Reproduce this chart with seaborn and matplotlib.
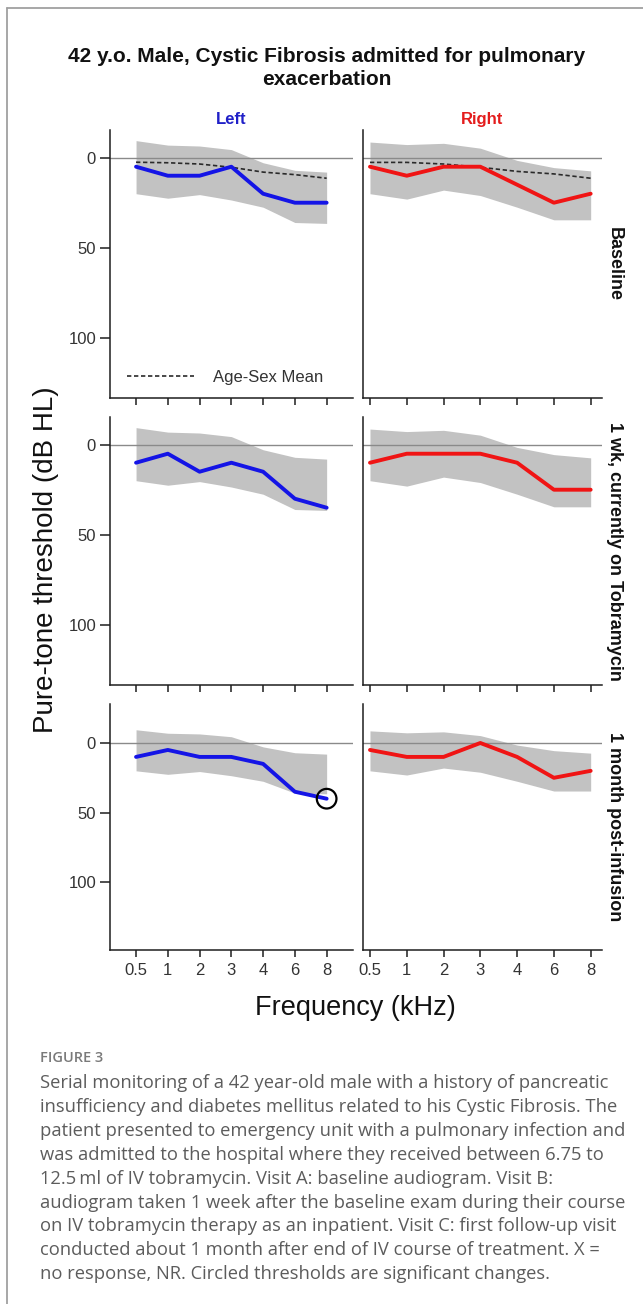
import numpy as np
import pandas as pd
import matplotlib
matplotlib.use("Agg")
import matplotlib.pyplot as plt
from matplotlib.lines import Line2D
import seaborn as sns

# ---------------- data ----------------
freqs = ["0.5", "1", "2", "3", "4", "6", "8"]
visits = ["Baseline", "1 wk, currently on Tobramycin", "1 month post-infusion"]
ears = ["Left", "Right"]

left_baseline = [5, 10, 10, 5, 20, 25, 25]
left_1wk = [10, 5, 15, 10, 15, 30, 35]
left_1mo = [10, 5, 10, 10, 15, 35, 40]
right_baseline = [5, 10, 5, 5, 15, 25, 20]
right_1wk = [10, 5, 5, 5, 10, 25, 25]
right_1mo = [5, 10, 10, 0, 10, 25, 20]

# age-sex norms (band limits and mean)
left_norm_upper = [-9.5, -7, -6.5, -4.5, 2.8, 7, 8]
left_norm_lower = [20, 22.5, 20.5, 23.5, 27.5, 36, 36.5]
right_norm_upper = [-8.7, -7.3, -8, -5.3, 1.5, 5.5, 7.3]
right_norm_lower = [20, 23, 18, 21, 27.5, 34.5, 34.5]
left_mean = [2.5, 2.8, 3.5, 5.3, 8, 9.4, 11.4]
right_mean = [2.6, 2.6, 3.5, 5.3, 7.6, 9, 11.4]

# significant change (circled)
sig_ear = ["Left"]
sig_visit = ["1 month post-infusion"]
sig_freq = ["8"]
sig_db = [40]

yticks = [0, 50, 100]

caption_head = "FIGURE 3"
caption_lines = [
    "Serial monitoring of a 42 year-old male with a history of pancreatic",
    "insufficiency and diabetes mellitus related to his Cystic Fibrosis. The",
    "patient presented to emergency unit with a pulmonary infection and",
    "was admitted to the hospital where they received between 6.75 to",
    "12.5\u2009ml of IV tobramycin. Visit A: baseline audiogram. Visit B:",
    "audiogram taken 1 week after the baseline exam during their course",
    "on IV tobramycin therapy as an inpatient. Visit C: first follow-up visit",
    "conducted about 1 month after end of IV course of treatment. X =",
    "no response, NR. Circled thresholds are significant changes.",
]

# ---------------- tables ----------------
thr = {("Left", visits[0]): left_baseline, ("Left", visits[1]): left_1wk,
       ("Left", visits[2]): left_1mo, ("Right", visits[0]): right_baseline,
       ("Right", visits[1]): right_1wk, ("Right", visits[2]): right_1mo}
rows = []
for (ear, visit), vals in thr.items():
    for i, (f, v) in enumerate(zip(freqs, vals)):
        rows.append(dict(ear=ear, visit=visit, freq=f, pos=i, dB=v))
df = pd.DataFrame(rows)

norm = pd.DataFrame({
    "pos": list(range(len(freqs))) * 2,
    "ear": ["Left"] * len(freqs) + ["Right"] * len(freqs),
    "upper": left_norm_upper + right_norm_upper,
    "lower": left_norm_lower + right_norm_lower,
    "mean": left_mean + right_mean,
})
sig = pd.DataFrame({"ear": sig_ear, "visit": sig_visit,
                    "pos": [freqs.index(f) for f in sig_freq], "dB": sig_db})

# ---------------- style ----------------
sns.set_style("white")
plt.rcParams["font.family"] = ["Liberation Sans", "DejaVu Sans"]

W, H = 643, 1304
fig = plt.figure(figsize=(W / 100, H / 100), dpi=100)

row_px = [(130, 398), (417, 685), (704, 949.5)]
col_px = [(110, 353), (363, 601.7)]
ylims = [(133.5, -15.4), (133.5, -15.4), (148.3, -28)]
xlims = [(-0.82, 6.83), (-0.19, 6.30)]
ear_color = {"Left": "#1414e6", "Right": "#f01414"}
ear_title = {"Left": "#2020c8", "Right": "#e41c1c"}
spine_c = "#1e1e1e"

for r, visit in enumerate(visits):
    for c, ear in enumerate(ears):
        x0, x1 = col_px[c]
        y0, y1 = row_px[r]
        ax = fig.add_axes([x0 / W, 1 - y1 / H, (x1 - x0) / W, (y1 - y0) / H])
        nsub = norm[norm.ear == ear]
        ax.fill_between(nsub["pos"], nsub["upper"], nsub["lower"],
                        color="#c2c2c2", lw=0, zorder=1)
        ax.axhline(0, color="#8a8a8a", lw=1.0, zorder=2)
        if r == 0:
            sns.lineplot(data=nsub, x="pos", y="mean", ax=ax, color="#2a2a2a",
                         lw=1.2, linestyle=(0, (2.6, 1.6)), zorder=3,
                         label="Age-Sex Mean" if c == 0 else None,
                         legend=False)
        sub = df[(df.ear == ear) & (df.visit == visit)]
        sns.lineplot(data=sub, x="pos", y="dB", ax=ax, color=ear_color[ear],
                     lw=2.8, zorder=4, legend=False)
        ssub = sig[(sig.ear == ear) & (sig.visit == visit)]
        if len(ssub):
            sns.scatterplot(data=ssub, x="pos", y="dB", ax=ax, s=200,
                            facecolor="none", edgecolor="black",
                            linewidth=1.6, zorder=5, legend=False)
        ax.set_xlim(*xlims[c])
        ax.set_ylim(*ylims[r])
        ax.set_xlabel("")
        ax.set_ylabel("")
        for s in ["top", "right"]:
            ax.spines[s].set_visible(False)
        for s in ["left", "bottom"]:
            ax.spines[s].set_color(spine_c)
            ax.spines[s].set_linewidth(1.1)
        ax.set_xticks(range(len(freqs)))
        ax.set_xticklabels(freqs if r == 2 else [""] * len(freqs))
        ax.tick_params(axis="x", bottom=True, length=5, width=1.1,
                       color=spine_c, labelsize=12, labelcolor="#333333", pad=5)
        if c == 0:
            ax.set_yticks(yticks)
            ax.tick_params(axis="y", left=True, length=7, width=1.1,
                           color=spine_c, labelsize=12, labelcolor="#333333",
                           pad=3)
        else:
            ax.set_yticks([])
        if r == 0:
            ax.set_title(ear, color=ear_title[ear], fontsize=12,
                         fontweight="bold", pad=4.5)
            if c == 0:
                ax.legend(loc="center left", bbox_to_anchor=(0.07, 0.076),
                          frameon=False, fontsize=12, handlelength=4.0,
                          handletextpad=1.15, borderpad=0, borderaxespad=0,
                          labelcolor="#333333")
    cy = (row_px[r][0] + row_px[r][1]) / 2
    fig.text(614 / W, 1 - cy / H, visit, rotation=270, ha="center",
             va="center", fontsize=13, fontweight="bold", color="#111111")

fig.text(327 / W, 1 - 68 / H,
         "42 y.o. Male, Cystic Fibrosis admitted for pulmonary\nexacerbation",
         ha="center", va="center", fontsize=15, fontweight="bold",
         linespacing=1.28, color="#111111")
fig.text(46 / W, 1 - 559.5 / H, "Pure-tone threshold (dB HL)", rotation=90,
         ha="center", va="center", fontsize=20, color="#111111")
fig.text(355 / W, 1 - 1008 / H, "Frequency (kHz)", ha="center", va="center",
         fontsize=19.5, color="#111111")

# caption
fig.text(40 / W, 1 - 1058 / H, caption_head, ha="left", va="center",
         fontsize=10.5, fontweight="semibold", color="#7a7a7a",
         family=["Open Sans", "DejaVu Sans"])
for i, line in enumerate(caption_lines):
    fig.text(40 / W, 1 - (1083 + 23.9 * i) / H, line, ha="left", va="center",
             fontsize=13.2, color="#5c5c5c", family=["Open Sans", "DejaVu Sans"])

# outer frame (left and top edges)
fig.add_artist(Line2D([7 / W, 7 / W], [0, 1 - 8 / H], transform=fig.transFigure,
                      color="#a0a0a0", lw=1.3))
fig.add_artist(Line2D([7 / W, 1], [1 - 8 / H, 1 - 8 / H],
                      transform=fig.transFigure, color="#a0a0a0", lw=1.3))

fig.savefig("out.png", dpi=100)
